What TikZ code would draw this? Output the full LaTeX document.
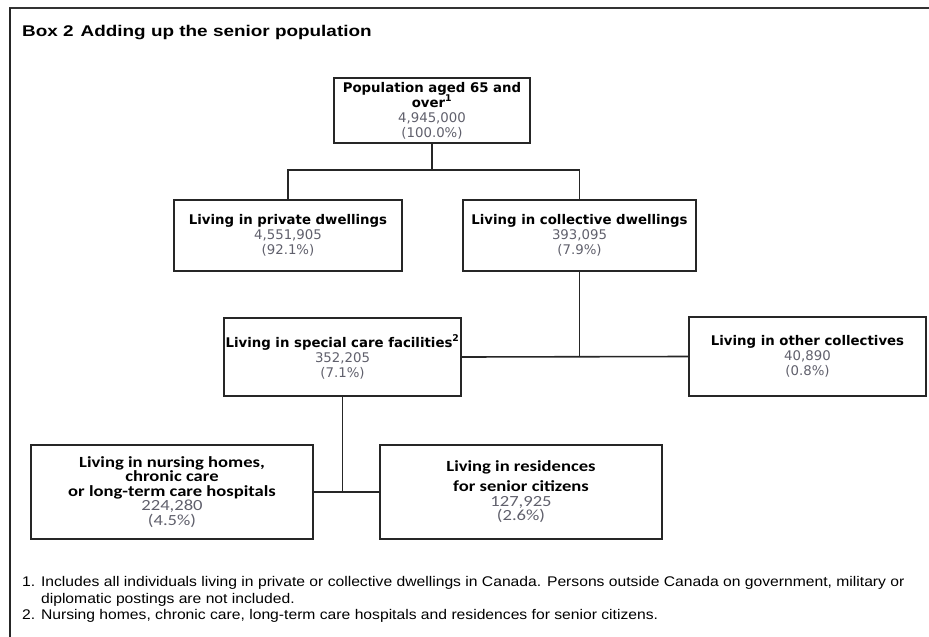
\documentclass[tikz,border=0pt]{standalone}
\usepackage{fontspec}
\setmainfont{DejaVu Sans}
\newfontfamily\arialfont{Liberation Sans}[FakeStretch=1.12]
\newfontfamily\titlefont{Liberation Sans}[FakeStretch=1.22]
\newfontfamily\calfont{Carlito}[FakeStretch=1.2]
\usetikzlibrary{positioning}
\definecolor{numgray}{RGB}{96,96,108}
\newcommand{\boxnum}[1]{\textcolor{numgray}{#1}}

\begin{document}
\begin{tikzpicture}[
  x = 1pt, y = -1pt,
  every node/.style = {inner sep = 0pt},
  box/.style = {
    draw = black!85,
    line width = 1.6pt,
    align = center,
    font = \fontsize{13.3}{15}\selectfont
  },
  calbox/.style = {
    box,
    font = \calfont\fontsize{15.5}{14.5}\selectfont
  },
  link/.style = {draw = black!85, line width = 1.6pt},
  note/.style = {
    anchor = base west,
    align = left,
    font = \arialfont\fontsize{14}{16.5}\selectfont
  }
  ]

  \useasboundingbox (0,0) rectangle (929,637);

  % frame and title
  \draw[line width = 1.8pt, black!80] (9,8) -- (929,8);
  \draw[line width = 1.2pt, black!85] (10,8) -- (10,637);
  \node[anchor = base west, font = \titlefont\bfseries\fontsize{15.5}{18}\selectfont] (title) at (22,36)
    {Box 2\hspace{0.45em}Adding up the senior population};

  % boxes
  \node[box, minimum width = 196pt, minimum height = 65pt] (pop) at (432,110.5)
    {\textbf{Population aged 65 and}\\\textbf{over\textsuperscript{1}}\\
     \boxnum{4,945,000}\\\boxnum{(100.0\%)}};
  \node[box, minimum width = 228pt, minimum height = 71pt] (priv) at (288,235.5)
    {\textbf{Living in private dwellings}\\\boxnum{4,551,905}\\\boxnum{(92.1\%)}};
  \node[box, minimum width = 233pt, minimum height = 71pt] (coll) at (579.5,235.5)
    {\textbf{Living in collective dwellings}\\\boxnum{393,095}\\\boxnum{(7.9\%)}};
  \node[box, minimum width = 237pt, minimum height = 78pt] (spec) at (342.5,357)
    {\textbf{Living in special care facilities\textsuperscript{2}}\\\boxnum{352,205}\\\boxnum{(7.1\%)}};
  \node[box, minimum width = 237pt, minimum height = 79pt] (other) at (807.5,356.5)
    {\textbf{Living in other collectives}\\\boxnum{40,890}\\\boxnum{(0.8\%)}};
  \node[calbox, minimum width = 282pt, minimum height = 94pt] (nurs) at (172,492)
    {\textbf{Living in nursing homes,}\\\textbf{chronic care}\\
     \textbf{or long-term care hospitals}\\\boxnum{224,280}\\\boxnum{(4.5\%)}};
  \node[calbox, minimum width = 282pt, minimum height = 94pt] (resi) at (521,492)
    {\textbf{Living in residences}\\[5.5pt]\textbf{for senior citizens}\\
     \boxnum{127,925}\\\boxnum{(2.6\%)}};

  % connectors
  \coordinate (split) at (432,170);
  \draw[link] (pop.south) -- (split);
  \draw[link] (priv.north) |- (split) -| (coll.north);
  \draw[link] (coll.south) -- (coll.south |- spec.east);
  \draw[link] (spec.east) -- (other.west);
  \draw[link] (spec.south) -- (spec.south |- nurs.east);
  \draw[link] (nurs.east) -- (resi.west);

  % footnotes
  \node[note] (fn1) at (22,603)
    {1. Includes all individuals living in private or collective dwellings in Canada. Persons outside Canada on government, military or\\
     \hphantom{1. }diplomatic postings are not included.};
  \node[note] (fn2) at (22,619)
    {2. Nursing homes, chronic care, long-term care hospitals and residences for senior citizens.};

\end{tikzpicture}
\end{document}
